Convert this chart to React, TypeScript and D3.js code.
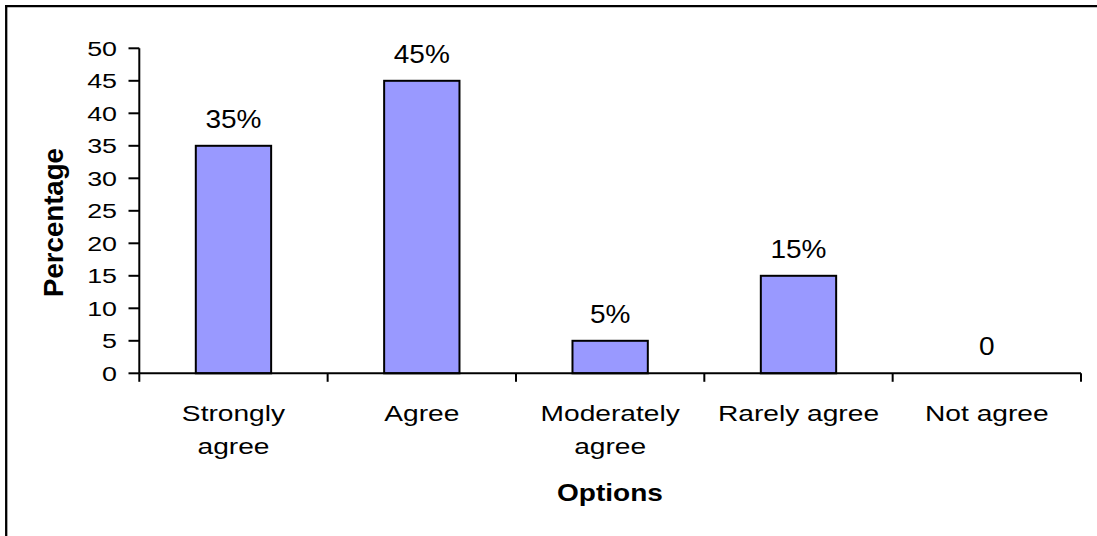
import React, { useEffect } from "react";
import * as d3 from "d3";

// Survey responses: share of respondents per option
const categories = ["Strongly agree", "Agree", "Moderately agree", "Rarely agree", "Not agree"];
const values = [35, 45, 5, 15, 0];
// Category tick labels as drawn, broken into lines
const categoryLines = [["Strongly", "agree"], ["Agree"], ["Moderately", "agree"], ["Rarely agree"], ["Not agree"]];
const yTicks = [0, 5, 10, 15, 20, 25, 30, 35, 40, 45, 50];

const W = 1097;
const H = 536;
const FONT = "'Liberation Sans', Arial, Helvetica, sans-serif";

const x = d3
  .scaleBand<string>()
  .domain(categories)
  .range([139.3, 1081])
  .paddingInner(0.6)
  .paddingOuter(0.3);

const y = d3.scaleLinear().domain([0, 50]).range([373.3, 48.3]);

const step = x.step();
const xStart = x.range()[0];
const boundaries = d3.range(categories.length + 1).map((i) => xStart + i * step);

const valueLabel = (v: number) => (v === 0 ? "0" : `${v}%`);

export default function App() {
  useEffect(() => {
    document.body.style.margin = "0";
    document.body.style.overflow = "hidden";
    document.documentElement.style.overflow = "hidden";
  }, []);

  const y0 = y(0);
  return (
    <svg
      width={W}
      height={H}
      viewBox={`0 0 ${W} ${H}`}
      style={{ display: "block", position: "absolute", left: 0, top: 0, background: "#fff", overflow: "hidden" }}
      fontFamily={FONT}
    >
      <rect x={0} y={0} width={W} height={H} fill="#fff" />
      {/* chart frame: top and left edges */}
      <line x1={5} x2={W} y1={6.2} y2={6.2} stroke="#000" strokeWidth={2.3} />
      <line x1={6.2} x2={6.2} y1={5} y2={H} stroke="#000" strokeWidth={2.3} />

      {/* bars */}
      {categories.map((c, i) => (
        <rect
          key={c}
          x={x(c)!}
          y={y(values[i])}
          width={x.bandwidth()}
          height={y0 - y(values[i])}
          fill="#9999FF"
          stroke="#000"
          strokeWidth={2}
          visibility={values[i] === 0 ? "hidden" : "visible"}
        />
      ))}

      {/* value labels */}
      {categories.map((c, i) => (
        <text
          key={c}
          transform={`translate(${x(c)! + x.bandwidth() / 2},${y(values[i]) - 18}) scale(1.12,1)`}
          textAnchor="middle"
          fontSize={25}
          fill="#000"
        >
          {valueLabel(values[i])}
        </text>
      ))}

      {/* y axis */}
      <line x1={139.3} x2={139.3} y1={y(50)} y2={y0} stroke="#000" strokeWidth={2} />
      {yTicks.map((t) => (
        <g key={t}>
          <line x1={128.5} x2={139.3} y1={y(t)} y2={y(t)} stroke="#000" strokeWidth={2} />
          <text
            transform={`translate(117,${y(t) + 7.3}) scale(1.31,1)`}
            textAnchor="end"
            fontSize={20.5}
            fill="#000"
          >
            {t}
          </text>
        </g>
      ))}

      {/* x axis */}
      <line x1={xStart} x2={boundaries[boundaries.length - 1]} y1={y0} y2={y0} stroke="#000" strokeWidth={2} />
      {boundaries.map((b, i) => (
        <line key={i} x1={b} x2={b} y1={y0} y2={y0 + 8.5} stroke="#000" strokeWidth={2} />
      ))}
      {categories.map((c, i) =>
        categoryLines[i].map((line, j) => (
          <text
            key={`${c}-${j}`}
            transform={`translate(${x(c)! + x.bandwidth() / 2},${420.7 + j * 33.3}) scale(1.28,1)`}
            textAnchor="middle"
            fontSize={22}
            fill="#000"
          >
            {line}
          </text>
        ))
      )}

      {/* axis titles */}
      <text
        transform={`translate(610,500.7) scale(1.22,1)`}
        textAnchor="middle"
        fontSize={23}
        fontWeight="bold"
        fill="#000"
      >
        Options
      </text>
      <text
        transform={`translate(63,222.5) rotate(-90)`}
        textAnchor="middle"
        fontSize={27.6}
        fontWeight="bold"
        fill="#000"
      >
        Percentage
      </text>
    </svg>
  );
}
